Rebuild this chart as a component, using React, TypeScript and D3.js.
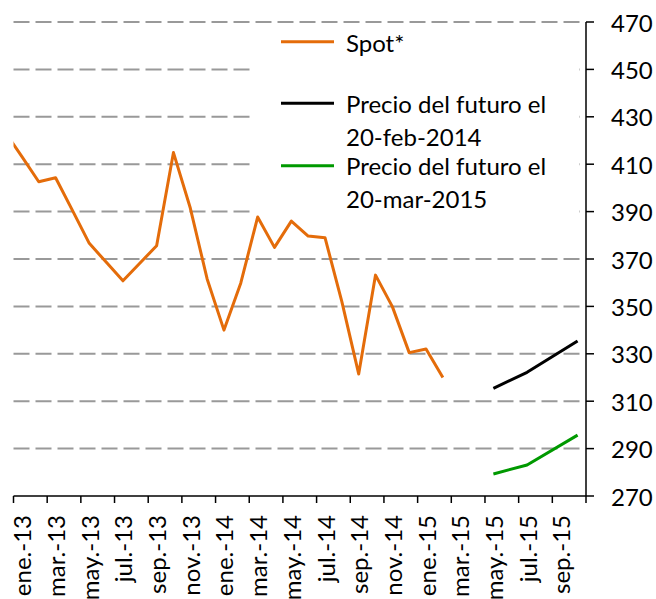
import React from "react";
import * as d3 from "d3";

// Month categories on the x axis (ene.-13 .. oct.-15)
const monthNames = ["ene.", "feb.", "mar.", "abr.", "may.", "jun.", "jul.", "ago.", "sep.", "oct.", "nov.", "dic."];
const years = ["13", "14", "15"];
const categories: string[] = [];
years.forEach((y) => monthNames.forEach((m) => categories.push(`${m}-${y}`)));
const axisMonths = categories.slice(0, 34);

// Spot series: monthly values starting dic.-12 (month offset -1), clipped at plot edge
const spotStartOffset = -1;
const spotValues = [
  423.6, 413.2, 402.6, 404.3, 390.5, 376.6, 368.7, 360.8, 368.2, 375.6, 414.9, 391.5,
  361.6, 340.0, 359.9, 387.7, 374.9, 386.0, 379.7, 379.0, 352.0, 321.5, 363.2, 349.9,
  330.5, 332.0, 320.0,
];

// Futures curves
const futureMonths = ["may.-15", "jul.-15", "oct.-15"];
const futureFeb2014 = [315.4, 322.2, 335.4];
const futureMar2015 = [279.3, 283.1, 295.7];

const yTicks = [270, 290, 310, 330, 350, 370, 390, 410, 430, 450, 470];

const FONT = "Lato, 'Open Sans', sans-serif";
const ORANGE = "#E46C0A";
const GREEN = "#009900";
const FS = 24;

export default function App() {
  const W = 656;
  const H = 599;
  const left = 13.5;
  const right = 586;
  const top = 22;
  const bottom = 496;

  const x = d3.scaleLinear().domain([0, axisMonths.length]).range([left, right]);
  const y = d3.scaleLinear().domain([270, 470]).range([bottom, top]);
  const mx = (i: number) => x(i + 0.5);

  const line = d3
    .line<[number, number]>()
    .x((d) => d[0])
    .y((d) => d[1]);

  const spotPts: [number, number][] = spotValues.map((v, i) => [mx(i + spotStartOffset), y(v)]);
  const futA: [number, number][] = futureMonths.map((m, i) => [mx(categories.indexOf(m)), y(futureFeb2014[i])]);
  const futB: [number, number][] = futureMonths.map((m, i) => [mx(categories.indexOf(m)), y(futureMar2015[i])]);

  const tickIdx = d3.range(0, axisMonths.length + 1, 2);
  const labelIdx = d3.range(0, axisMonths.length, 2);

  return (
    <svg
      width={W}
      height={H}
      style={{ position: "absolute", left: 0, top: 0, background: "#fff" }}
      fontFamily={FONT}
    >
      <defs>
        <clipPath id="plotClip">
          <rect x={left} y={0} width={right - left} height={H} />
        </clipPath>
      </defs>
      {/* gridlines */}
      {yTicks.slice(1).map((t) => (
        <line
          key={t}
          x1={left}
          x2={right - 2}
          y1={y(t)}
          y2={y(t)}
          stroke="#999"
          strokeWidth={2}
          strokeDasharray="16 6"
        />
      ))}
      {/* legend background */}
      <rect x={250} y={28} width={329} height={190} fill="#fff" />
      {/* series */}
      <path d={line(spotPts) || ""} fill="none" stroke={ORANGE} strokeWidth={3} clipPath="url(#plotClip)" strokeLinejoin="round" />
      <path d={line(futA) || ""} fill="none" stroke="#000" strokeWidth={3} strokeLinejoin="round" />
      <path d={line(futB) || ""} fill="none" stroke={GREEN} strokeWidth={3} strokeLinejoin="round" />
      {/* x axis */}
      <line x1={left} x2={right} y1={bottom} y2={bottom} stroke="#000" strokeWidth={1.5} />
      {tickIdx.map((i) => (
        <line key={i} x1={x(i)} x2={x(i)} y1={bottom} y2={bottom + 7} stroke="#000" strokeWidth={1.5} />
      ))}
      {labelIdx.map((i) => (
        <text
          key={i}
          x={mx(i)}
          y={515}
          transform={`rotate(-90, ${mx(i)}, 515)`}
          textAnchor="end"
          dominantBaseline="central"
          fontSize={FS}
          fill="#000"
        >
          {axisMonths[i]}
        </text>
      ))}
      {/* y axis (right) */}
      <line x1={right} x2={right} y1={top} y2={bottom} stroke="#000" strokeWidth={1.5} />
      {yTicks.map((t) => (
        <g key={t}>
          <line x1={right} x2={right + 8} y1={y(t)} y2={y(t)} stroke="#000" strokeWidth={1.5} />
          <text x={611} y={y(t)} dominantBaseline="central" fontSize={FS} fill="#000">
            {t}
          </text>
        </g>
      ))}
      {/* legend */}
      <line x1={281} x2={334} y1={41.7} y2={41.7} stroke={ORANGE} strokeWidth={3} />
      <text x={346} y={42} dominantBaseline="central" fontSize={FS}>Spot*</text>
      <line x1={281} x2={334} y1={103.3} y2={103.3} stroke="#000" strokeWidth={3} />
      <text x={346} y={103.3} dominantBaseline="central" fontSize={FS}>Precio del futuro el</text>
      <text x={346} y={136.5} dominantBaseline="central" fontSize={FS}>20-feb-2014</text>
      <line x1={281} x2={334} y1={165.7} y2={165.7} stroke={GREEN} strokeWidth={3} />
      <text x={346} y={165.7} dominantBaseline="central" fontSize={FS}>Precio del futuro el</text>
      <text x={346} y={198.3} dominantBaseline="central" fontSize={FS}>20-mar-2015</text>
    </svg>
  );
}
